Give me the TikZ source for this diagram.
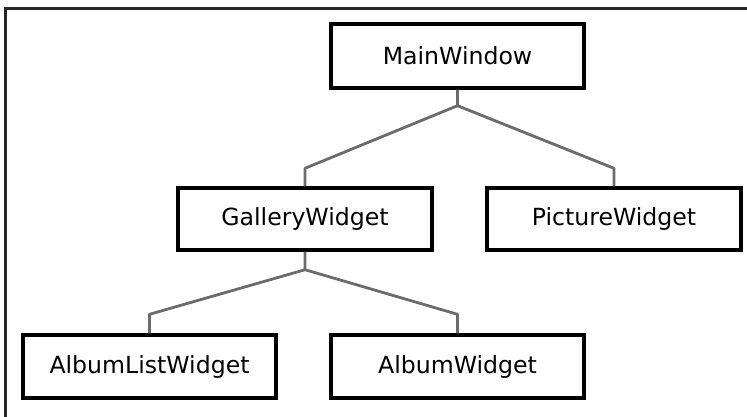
\documentclass[tikz,border=0pt]{standalone}
\usepackage{fontspec}
\setmainfont{DejaVu Sans}
\usetikzlibrary{calc}
\begin{document}
\begin{tikzpicture}[x=1pt,y=-1pt,
  wbox/.style={draw=black,line width=3.4pt,fill=white,rectangle,inner sep=0pt,
    font=\fontsize{23.6}{28}\selectfont},
  link/.style={draw=black!58,line width=2.8pt,line join=round}]
\useasboundingbox (0,0) rectangle (747,416);
\draw[line width=2.2pt,black!85] (5.5,418) -- (5.5,8.5) -- (749,8.5);
\node[wbox,minimum width=253pt,minimum height=64pt] (main) at (457.5,56) {MainWindow};
\node[wbox,minimum width=254pt,minimum height=62pt] (gal) at (305,219) {GalleryWidget};
\node[wbox,minimum width=254pt,minimum height=62pt] (pic) at (614,219) {PictureWidget};
\node[wbox,minimum width=253pt,minimum height=63pt] (alist) at (149.5,366.5) {AlbumListWidget};
\node[wbox,minimum width=253pt,minimum height=63pt] (alb) at (457.5,366.5) {AlbumWidget};
\draw[link] (main.south) -- ++(0,16) coordinate (m1) -- ($(gal.north)+(0,-18)$) -- (gal.north);
\draw[link] (m1) -- ($(pic.north)+(0,-18)$) -- (pic.north);
\draw[link] (gal.south) -- ++(0,18) coordinate (g1) -- ($(alist.north)+(0,-19)$) -- (alist.north);
\draw[link] (g1) -- ($(alb.north)+(0,-19)$) -- (alb.north);
\end{tikzpicture}
\end{document}
